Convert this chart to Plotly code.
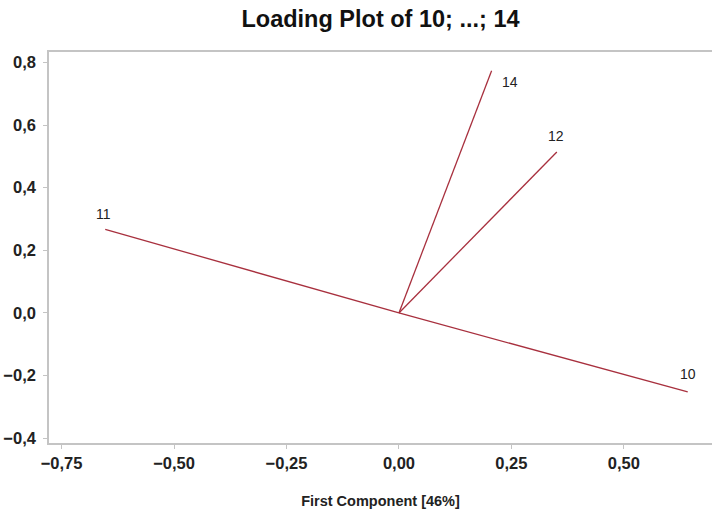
import plotly.graph_objects as go

variables = ["10", "11", "12", "14"]
pc1 = [0.642, -0.653, 0.351, 0.206]
pc2 = [-0.252, 0.267, 0.514, 0.773]
label_shift_x = [0, -2, -1, 18]
label_shift_y = [18, 15, 16, -11]

x_ticks = [-0.75, -0.50, -0.25, 0.00, 0.25, 0.50]
y_ticks = [-0.4, -0.2, 0.0, 0.2, 0.4, 0.6, 0.8]

line_color = "#A8303E"
font_family = "Liberation Sans, Arial, sans-serif"

fig = go.Figure()
for name, x, y in zip(variables, pc1, pc2):
    fig.add_trace(go.Scatter(x=[0, x], y=[0, y], mode="lines",
                             line=dict(color=line_color, width=1.3),
                             showlegend=False, hoverinfo="skip"))

for name, x, y, sx, sy in zip(variables, pc1, pc2, label_shift_x, label_shift_y):
    fig.add_annotation(x=x, y=y, text=name, showarrow=False,
                       xshift=sx, yshift=sy,
                       font=dict(family=font_family, size=14, color="#222"))

axis_common = dict(showgrid=False, zeroline=False, showline=True,
                   linecolor="#c4c4c4", linewidth=1.5, automargin=False,
                   ticks="outside", ticklen=4, tickcolor="#c4c4c4",
                   tickfont=dict(family=font_family, size=16.5, color="#222", weight="bold"))

fig.update_layout(
    width=712, height=509,
    margin=dict(l=49, r=0, t=52, b=66),
    paper_bgcolor="white", plot_bgcolor="white",
    separators=",.",
    title=dict(text="<b>Loading Plot of 10; ...; 14</b>", x=0.5, xref="paper",
               xanchor="center", y=0.963, yanchor="middle",
               font=dict(family=font_family, size=23.5, color="#111")),
    xaxis=dict(range=[-0.778, 0.696], tickvals=x_ticks, tickformat=".2f",
               mirror=True,
               title=dict(text="<b>First Component [46%]</b>", standoff=25,
                          font=dict(family=font_family, size=14.5, color="#222")),
               **axis_common),
    yaxis=dict(range=[-0.415, 0.833], tickvals=y_ticks, tickformat=".1f",
               ticklabelstandoff=4,
               **axis_common),
)

fig.write_html("out.html",
               config={"displayModeBar": False},
               post_script="document.body.style.margin='0';document.body.style.overflow='hidden';")
